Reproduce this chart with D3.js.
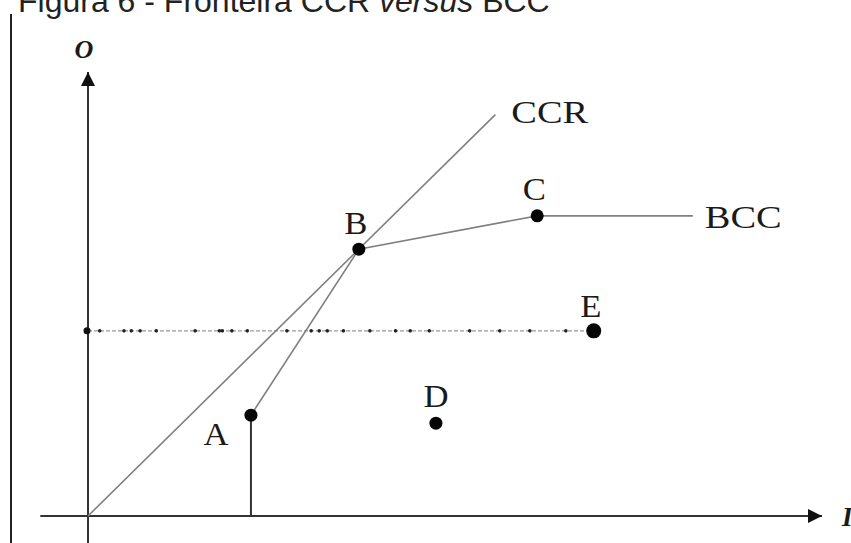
<!DOCTYPE html>
<html>
<head>
<meta charset="utf-8">
<script src="https://cdn.jsdelivr.net/npm/d3@7"></script>
<style>
  body { margin: 0; background: #fff; }
  svg { display: block; }
  .lbl { font-family: "Liberation Serif", "DejaVu Serif", serif; fill: #1a1a1a; }
</style>
</head>
<body>
<svg id="chart" width="851" height="543"></svg>
<script>
// Figure: CCR vs BCC frontier (input I on x, output O on y)

// DMU points (data units)
const pointNames = ["A", "B", "C", "D", "E"];
const pointX = [2.22, 3.69, 6.12, 4.74, 6.89];
const pointY = [2.27, 6.01, 6.76, 2.09, 4.17];

// BCC frontier: A -> B -> C -> horizontal
const bccX = [2.22, 3.69, 6.12, 8.24];
const bccY = [2.27, 6.01, 6.76, 6.76];

// CCR frontier: ray from origin through B
const ccrX = [0, 5.55];
const ccrY = [0, 9.04];

// dots sitting on the dotted line at E's output level
const dotX = [0.16, 0.49, 0.59, 0.71, 0.93, 1.46, 1.79, 1.83, 1.96, 2.17, 2.71,
              3.04, 3.15, 3.26, 3.48, 3.84, 4.19, 4.39, 4.65, 5.2, 5.61, 6.02, 6.51];

const svg = d3.select("#chart");

const x = d3.scaleLinear().domain([0, 10]).range([88, 822]);
const y = d3.scaleLinear().domain([0, 10]).range([516, 72]);

// title (cut off at top in the original scan)
svg.append("text")
    .attr("x", 18)
    .attr("y", 12)
    .attr("font-family", "Liberation Sans, Arial, sans-serif")
    .attr("font-size", 32)
    .attr("fill", "#222")
    .html('Figura 6 - Fronteira CCR <tspan font-style="italic">versus</tspan> BCC');

// left page border
svg.append("line")
    .attr("x1", 11).attr("x2", 11)
    .attr("y1", 14).attr("y2", 543)
    .attr("stroke", "#222").attr("stroke-width", 2);

const defs = svg.append("defs");
defs.append("marker")
    .attr("id", "arrow")
    .attr("viewBox", "0 0 10 10")
    .attr("refX", 10).attr("refY", 5)
    .attr("markerWidth", 7).attr("markerHeight", 7)
    .attr("markerUnits", "strokeWidth")
    .attr("orient", "auto")
  .append("path")
    .attr("d", "M0,0 L10,5 L0,10 Z")
    .attr("fill", "#111");

// axes
svg.append("line")
    .attr("x1", x(-0.65)).attr("x2", x(10))
    .attr("y1", y(0)).attr("y2", y(0))
    .attr("stroke", "#333").attr("stroke-width", 2)
    .attr("marker-end", "url(#arrow)");

svg.append("line")
    .attr("x1", x(0)).attr("x2", x(0))
    .attr("y1", y(-0.61)).attr("y2", y(10))
    .attr("stroke", "#333").attr("stroke-width", 2)
    .attr("marker-end", "url(#arrow)");

svg.append("text").attr("class", "lbl")
    .attr("x", x(0) - 4).attr("y", 58)
    .attr("text-anchor", "middle")
    .attr("font-size", 26).attr("font-style", "italic").attr("font-weight", "bold")
    .text("O");

svg.append("text").attr("class", "lbl")
    .attr("x", 842).attr("y", 526)
    .attr("font-size", 27).attr("font-style", "italic").attr("font-weight", "bold")
    .text("I");

const line = d3.line().x(d => x(d[0])).y(d => y(d[1]));

// dotted reference line at E
svg.append("line")
    .attr("x1", x(0)).attr("x2", x(pointX[4]))
    .attr("y1", y(pointY[4])).attr("y2", y(pointY[4]))
    .attr("stroke", "#999").attr("stroke-width", 1.3)
    .attr("stroke-dasharray", "4,2");

svg.append("circle")
    .attr("cx", x(0) - 1).attr("cy", y(pointY[4]))
    .attr("r", 3.5).attr("fill", "#111");

svg.selectAll(".dot")
  .data(dotX)
  .join("circle")
    .attr("class", "dot")
    .attr("cx", d => x(d))
    .attr("cy", y(pointY[4]))
    .attr("r", 1.8)
    .attr("fill", "#222");

// CCR ray
svg.append("path")
    .attr("d", line(d3.zip(ccrX, ccrY)))
    .attr("fill", "none")
    .attr("stroke", "#808080").attr("stroke-width", 1.6);

// BCC frontier
svg.append("path")
    .attr("d", line(d3.zip(bccX, bccY)))
    .attr("fill", "none")
    .attr("stroke", "#808080").attr("stroke-width", 1.6);

// A drop line to axis
svg.append("line")
    .attr("x1", x(pointX[0])).attr("x2", x(pointX[0]))
    .attr("y1", y(pointY[0])).attr("y2", y(0))
    .attr("stroke", "#333").attr("stroke-width", 2);

const pts = pointNames.map((n, i) => ({ name: n, x: pointX[i], y: pointY[i] }));

svg.selectAll(".pt")
  .data(pts)
  .join("circle")
    .attr("class", "pt")
    .attr("cx", d => x(d.x))
    .attr("cy", d => y(d.y))
    .attr("r", d => d.name === "E" ? 7.5 : 6.5)
    .attr("fill", "#050505");

// point labels: offsets from the point in px
const labelDx = { A: -35, B: -3, C: -3, D: 0, E: -3 };
const labelDy = { A: 30, B: -15, C: -16, D: -16, E: -14 };

svg.selectAll(".ptlbl")
  .data(pts)
  .join("text")
    .attr("class", "lbl ptlbl")
    .attr("text-anchor", "middle")
    .attr("font-size", 31)
    .attr("transform", d => `translate(${x(d.x) + labelDx[d.name]},${y(d.y) + labelDy[d.name]}) scale(1.12,1)`)
    .text(d => d.name);

// frontier labels
svg.append("text").attr("class", "lbl")
    .attr("font-size", 32)
    .attr("transform", `translate(${x(ccrX[1]) + 16},${123}) scale(1.2,1)`)
    .text("CCR");

svg.append("text").attr("class", "lbl")
    .attr("font-size", 32)
    .attr("transform", `translate(${x(bccX[3]) + 12},${y(bccY[3]) + 12}) scale(1.2,1)`)
    .text("BCC");
</script>
</body>
</html>
